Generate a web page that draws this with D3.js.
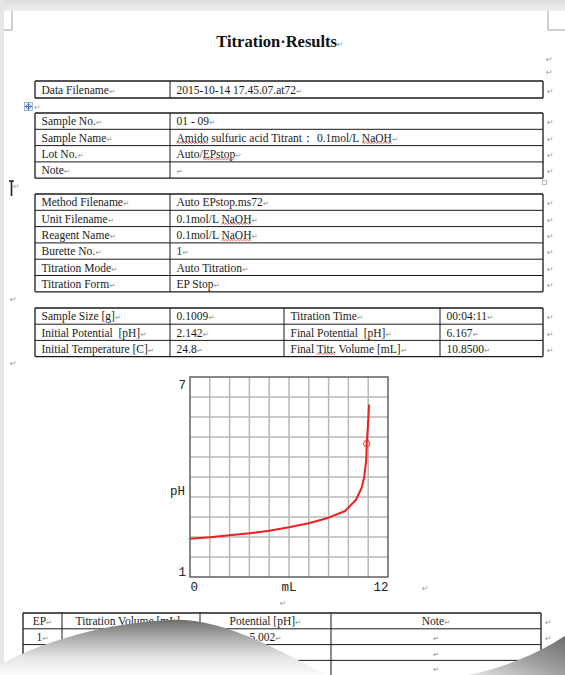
<!DOCTYPE html>
<html><head><meta charset="utf-8">
<script src="https://cdn.jsdelivr.net/npm/d3@7"></script>
<style>html,body{margin:0;padding:0;background:#fff;overflow:hidden}svg{display:block}</style>
</head><body><svg id="c" width="565" height="675"></svg>
<script>
// ---------- data ----------
const title = "Titration\u00B7Results";
const dataFileRows = [["Data Filename", "2015-10-14 17.45.07.at72"]];
const sampleRows = [["Sample No.", "01 - 09"], ["Sample Name", "Amido sulfuric acid Titrant\uFF1A 0.1mol/L NaOH"], ["Lot No.", "Auto/EPstop"], ["Note", ""]];
const methodRows = [["Method Filename", "Auto EPstop.ms72"], ["Unit Filename", "0.1mol/L NaOH"], ["Reagent Name", "0.1mol/L NaOH"], ["Burette No.", "1"], ["Titration Mode", "Auto Titration"], ["Titration Form", "EP Stop"]];
const resultRows = [["Sample Size [g]", "0.1009", "Titration Time", "00:04:11"], ["Initial Potential \u00A0[pH]", "2.142", "Final Potential \u00A0[pH]", "6.167"], ["Initial Temperature [C]", "24.8", "Final Titr. Volume [mL]", "10.8500"]];
const epHeader = ["EP", "Titration Volume [mL]", "Potential [pH]", "Note"];
const epRows = [["1", "", "5.002", ""], ["", "", "", ""], ["", "", "", ""]];
const squiggles = [["Amido sulfuric acid Titrant\uFF1A 0.1mol/L NaOH", "Amido"], ["Amido sulfuric acid Titrant\uFF1A 0.1mol/L NaOH", "NaOH"], ["Auto/EPstop", "EPstop"], ["0.1mol/L NaOH", "NaOH"], ["Final Titr. Volume [mL]", "Titr."]];

const volume    = [0, 1.2, 2.4, 3.6, 4.8, 6.0, 7.2, 8.4, 9.4, 10.05, 10.4, 10.56, 10.68, 10.71, 10.77, 10.81, 10.85];
const potential = [2.15, 2.19, 2.25, 2.31, 2.39, 2.49, 2.61, 2.78, 2.98, 3.31, 3.67, 4.01, 4.51, 5.00, 5.45, 5.77, 6.17];
const epPoint = [10.71, 5.002];
const xTicks = [0, 12];
const yTicks = [1, 7];
const xLabel = "mL", yLabel = "pH";

// ---------- page ----------
const svg = d3.select("#c");
const defs = svg.append("defs");
const serif = "'Liberation Serif','Times New Roman',serif";
const markColor = "#9a9a9a";

const gTop = defs.append("linearGradient").attr("id", "gTop").attr("x1", 0).attr("y1", 0).attr("x2", 0).attr("y2", 1);
gTop.append("stop").attr("offset", 0).attr("stop-color", "#dcdcdc");
gTop.append("stop").attr("offset", 1).attr("stop-color", "#efefef");
svg.append("rect").attr("x", 0).attr("y", 0).attr("width", 565).attr("height", 11).attr("fill", "url(#gTop)");
svg.append("rect").attr("x", 0).attr("y", 0).attr("width", 4).attr("height", 675).attr("fill", "#e6e6e6");

// corner marks
svg.append("path").attr("d", "M12,11V30H4 M548,11V30H565").attr("fill", "none").attr("stroke", "#a0a0a0").attr("stroke-width", 1);

function mark(x, y, anchor) {
  svg.append("text").attr("x", x).attr("y", y).attr("font-family", "'DejaVu Sans'").attr("font-size", 8)
    .attr("fill", markColor).attr("text-anchor", anchor || "start").text("\u21B5");
}

// title
const tt = svg.append("text").attr("x", 280).attr("y", 47).attr("text-anchor", "middle")
  .attr("font-family", serif).attr("font-weight", "bold").attr("font-size", 16.5).attr("fill", "#111");
tt.append("tspan").text(title);
tt.append("tspan").attr("font-family", "'DejaVu Sans'").attr("font-weight", "normal").attr("font-size", 8).attr("fill", markColor).text("\u21B5");
mark(546, 62); mark(546, 75);

// ---------- tables ----------
function squiggle(x0, x1, y) {
  let d = "M" + x0 + "," + y, up = true;
  for (let x = x0 + 1.5; x <= x1; x += 1.5) { d += "L" + x.toFixed(1) + "," + (up ? y - 1.2 : y); up = !up; }
  svg.append("path").attr("d", d).attr("fill", "none").attr("stroke", "#e03030").attr("stroke-width", 0.8);
}

function drawTable(rows, top, cols, rowH, opts) {
  opts = opts || {};
  const g = svg.append("g");
  const n = rows.length;
  const bottom = top + n * rowH;
  rows.forEach((r, i) => {
    const yT = top + i * rowH;
    r.forEach((txt, j) => {
      const x0 = cols[j], x1 = cols[j + 1];
      const center = opts.center;
      const t = g.append("text").attr("y", yT + rowH * 0.76)
        .attr("x", center ? (x0 + x1) / 2 : x0 + 6.5)
        .attr("text-anchor", center ? "middle" : "start")
        .attr("font-family", serif).attr("font-size", 11.5).attr("fill", "#1a1a1a")
        .attr("xml:space", "preserve");
      t.append("tspan").text(txt);
      t.append("tspan").attr("font-family", "'DejaVu Sans'").attr("font-size", 7.5).attr("fill", markColor).text("\u21B5");
      squiggles.filter(s => s[0] === txt).forEach(s => {
        const idx = txt.indexOf(s[1]);
        const node = t.node();
        const start = node.getStartPositionOfChar(idx).x;
        const len = node.getSubStringLength(idx, s[1].length);
        squiggle(start, start + len, yT + rowH - 2.2);
      });
    });
    mark(opts.markX || 547, yT + rowH * 0.76);
  });
  const L = g.append("g").attr("stroke", "#1a1a1a").attr("fill", "none");
  for (let i = 0; i <= n; i++) {
    L.append("line").attr("x1", cols[0]).attr("x2", cols[cols.length - 1]).attr("y1", top + i * rowH).attr("y2", top + i * rowH)
      .attr("stroke-width", (i === 0 || i === n) ? 1.3 : 1);
  }
  cols.forEach((c, j) => {
    L.append("line").attr("x1", c).attr("x2", c).attr("y1", top).attr("y2", bottom)
      .attr("stroke-width", (j === 0 || j === cols.length - 1) ? 1.3 : 1);
  });
}

drawTable(dataFileRows, 81, [35, 170, 543], 17);
// move handle
svg.append("rect").attr("x", 24.5).attr("y", 102.5).attr("width", 8).attr("height", 8).attr("fill", "#eef3fb").attr("stroke", "#8aa6d0").attr("stroke-width", 0.8);
svg.append("path").attr("d", "M28.5,103.5V109.5M25.5,106.5H31.5M27.3,104.6L28.5,103.4L29.7,104.6M27.3,108.4L28.5,109.6L29.7,108.4M26.6,105.3L25.4,106.5L26.6,107.7M30.4,105.3L31.6,106.5L30.4,107.7")
  .attr("fill", "none").attr("stroke", "#2a5aa8").attr("stroke-width", 0.9);
mark(34, 110);

drawTable(sampleRows, 113, [35, 170, 543], 16.3);
svg.append("path").attr("d", "M11.5,181V196M9,181H14").attr("stroke", "#222").attr("stroke-width", 1.6);
mark(13, 189);
svg.append("rect").attr("x", 542.5).attr("y", 180.5).attr("width", 4).attr("height", 4).attr("fill", "none").attr("stroke", "#aaa").attr("stroke-width", 0.8);

drawTable(methodRows, 194, [35, 170, 543], 16.3);
mark(10, 302);
drawTable(resultRows, 308, [35, 170, 284, 440, 543], 16.2);
mark(10, 366);

// ---------- chart ----------
const x = d3.scaleLinear().domain([0, 12]).range([190, 388]);
const y = d3.scaleLinear().domain([1, 7]).range([577, 377]);
const chart = svg.append("g");
const grid = chart.append("g").attr("stroke", "#b8b8b8").attr("stroke-width", 1.5);
d3.range(1, 10).forEach(i => {
  const v = i * 1.2;
  grid.append("line").attr("x1", x(v)).attr("x2", x(v)).attr("y1", y(1)).attr("y2", y(7));
});
d3.range(1, 10).forEach(i => {
  const v = 1 + i * 0.6;
  grid.append("line").attr("y1", y(v)).attr("y2", y(v)).attr("x1", x(0)).attr("x2", x(12));
});
chart.append("rect").attr("x", x(0)).attr("y", y(7)).attr("width", x(12) - x(0)).attr("height", y(1) - y(7))
  .attr("fill", "none").attr("stroke", "#6a6a6a").attr("stroke-width", 1.6);

const mono = "'Liberation Mono','DejaVu Sans Mono',monospace";
const xAxis = chart.append("g").attr("transform", "translate(0," + y(1) + ")")
  .call(d3.axisBottom(x).tickValues(xTicks).tickFormat(d3.format("d")).tickSize(0).tickPadding(0));
xAxis.select(".domain").remove();
xAxis.selectAll("text").attr("font-family", mono).attr("font-size", 12.5).attr("fill", "#222").attr("dy", 0).attr("y", 14)
  .attr("text-anchor", (d, i) => i === 0 ? "start" : "end");
chart.append("text").attr("x", (x(0) + x(12)) / 2).attr("y", y(1) + 14).attr("text-anchor", "middle")
  .attr("font-family", mono).attr("font-size", 12.5).attr("fill", "#222").text(xLabel);

const yAxis = chart.append("g").attr("transform", "translate(" + x(0) + ",0)")
  .call(d3.axisLeft(y).tickValues(yTicks).tickFormat(d3.format("d")).tickSize(0).tickPadding(4));
yAxis.select(".domain").remove();
yAxis.selectAll("text").attr("font-family", mono).attr("font-size", 12.5).attr("fill", "#222")
  .attr("dy", d => d === 7 ? "0.95em" : "-0.1em").attr("y", 0);
chart.append("text").attr("x", x(0) - 5).attr("y", (y(1) + y(7)) / 2 + 18).attr("text-anchor", "end")
  .attr("font-family", mono).attr("font-size", 12.5).attr("fill", "#222").text(yLabel);

const line = d3.line().x((d, i) => x(volume[i])).y((d, i) => y(potential[i]));
chart.append("path").datum(volume).attr("d", line).attr("fill", "none").attr("stroke", "#ee1f1f")
  .attr("stroke-width", 2).attr("stroke-linejoin", "round");
chart.append("circle").attr("cx", x(epPoint[0])).attr("cy", y(epPoint[1])).attr("r", 3.2)
  .attr("fill", "none").attr("stroke", "#ee3030").attr("stroke-width", 1);

mark(422, 591);
mark(283, 606, "middle");

// ---------- EP table ----------
drawTable([epHeader].concat(epRows), 613, [23, 62, 200, 331, 541], 15.8, { center: true, markX: 545 });

// ---------- page curl ----------
const gL = defs.append("linearGradient").attr("id", "gL").attr("x1", 0).attr("y1", 0).attr("x2", 0).attr("y2", 1);
gL.append("stop").attr("offset", 0).attr("stop-color", "#6e6e6e");
gL.append("stop").attr("offset", 0.3).attr("stop-color", "#a8a8a8");
gL.append("stop").attr("offset", 0.7).attr("stop-color", "#e8e8e8");
gL.append("stop").attr("offset", 1).attr("stop-color", "#fafafa");
svg.append("path").attr("d", "M0,675L0,665C30,648 90,624 170,620C215,618 262,640 326,675Z").attr("fill", "url(#gL)");
const gR = defs.append("linearGradient").attr("id", "gR").attr("x1", 0).attr("y1", 1).attr("x2", 1).attr("y2", 0);
gR.append("stop").attr("offset", 0).attr("stop-color", "#e4e4e4");
gR.append("stop").attr("offset", 0.5).attr("stop-color", "#a0a0a0");
gR.append("stop").attr("offset", 1).attr("stop-color", "#6c6c6c");
svg.append("path").attr("d", "M468,675C500,669 528,657 550,645L565,636L565,675Z").attr("fill", "url(#gR)");
</script></body></html>
